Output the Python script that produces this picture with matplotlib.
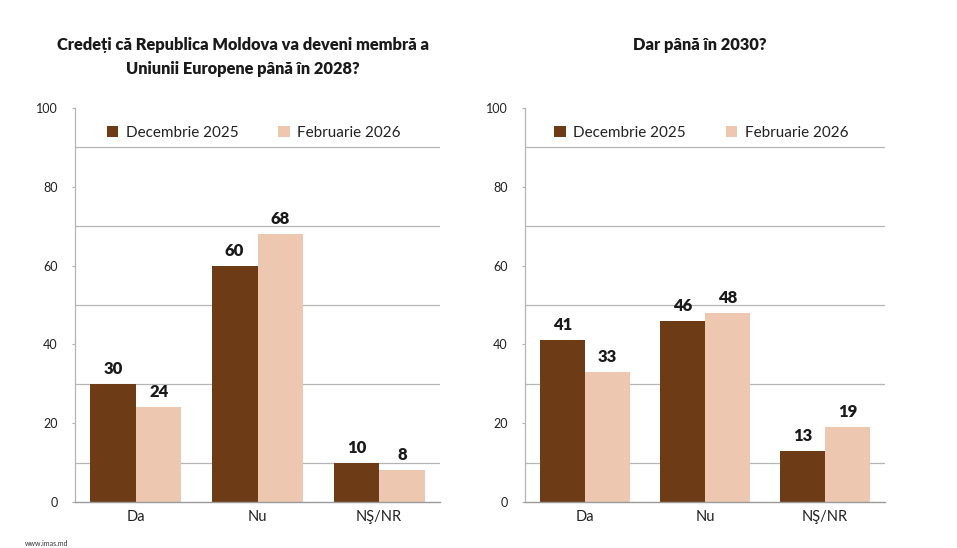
import matplotlib
matplotlib.use("Agg")
import matplotlib.pyplot as plt
import numpy as np

categories = ["Da", "Nu", "NŞ/NR"]
series_names = ["Decembrie 2025", "Februarie 2026"]
left_dec = [30, 60, 10]
left_feb = [24, 68, 8]
right_dec = [41, 46, 13]
right_feb = [33, 48, 19]
yticks = [0, 20, 40, 60, 80, 100]
grid_vals = [10, 30, 50, 70, 90]
title_left = "Credeți că Republica Moldova va deveni membră a\nUniunii Europene până în 2028?"
title_right = "Dar până în 2030?"

dark = "#6E3B17"
light = "#EDC7B0"
plt.rcParams['font.family'] = ['Lato', 'DejaVu Sans']

fig = plt.figure(figsize=(9.57, 5.48), dpi=100)
ax1 = fig.add_axes([75/957, 1-502/548, 365/957, 394/548])
ax2 = fig.add_axes([525/957, 1-502/548, 360/957, 394/548])

def draw(ax, dec, feb):
    x = np.arange(len(categories))
    w = 0.375
    b1 = ax.bar(x - w/2, dec, w, color=dark, label=series_names[0], zorder=2)
    b2 = ax.bar(x + w/2, feb, w, color=light, label=series_names[1], zorder=2)
    for bars, vals in ((b1, dec), (b2, feb)):
        for r, v in zip(bars, vals):
            ax.text(r.get_x() + r.get_width()/2, r.get_height() + 1.8, str(v),
                    ha='center', va='bottom', fontsize=12, fontweight='heavy', color='#1a1a1a')
    ax.set_xlim(-0.5, 2.5)
    ax.set_ylim(0, 100)
    ax.set_yticks(yticks)
    ax.set_yticks(grid_vals, minor=True)
    ax.tick_params(axis='y', which='major', length=2.5, color='#b0b0b0', labelsize=9, labelcolor='#222222', pad=10)
    ax.tick_params(axis='y', which='minor', length=0)
    ax.yaxis.grid(True, which='minor', color='#b5b5b5', linewidth=0.9, zorder=0)
    ax.set_axisbelow(True)
    ax.set_xticks(np.arange(len(categories)))
    ax.set_xticklabels(categories, fontsize=10.5, color='#222222')
    ax.tick_params(axis='x', length=0, pad=6)
    for s in ['top', 'right']:
        ax.spines[s].set_visible(False)
    ax.spines['left'].set_color('#b5b5b5')
    ax.spines['bottom'].set_color('#9a9a9a')
    ax.spines['left'].set_linewidth(0.9)
    ax.spines['bottom'].set_linewidth(1.0)
    ax.legend(loc='upper center', bbox_to_anchor=(0.49, 0.99), ncol=2, frameon=False,
              fontsize=11, handlelength=0.75, handleheight=0.75, columnspacing=2.6,
              handletextpad=0.5, labelcolor='#222222')

draw(ax1, left_dec, left_feb)
draw(ax2, right_dec, right_feb)

fig.text(243/957, 1-57/548, title_left, ha='center', va='center', fontsize=11.8,
         fontweight='heavy', color='#1a1a1a', linespacing=1.65)
fig.text(700/957, 1-45/548, title_right, ha='center', va='center', fontsize=11.8,
         fontweight='heavy', color='#1a1a1a')
fig.text(25/957, 1-543/548, "www.imas.md", ha='left', va='center', fontsize=5, color='#333333')

fig.savefig("out.png", dpi=100, facecolor='white')
